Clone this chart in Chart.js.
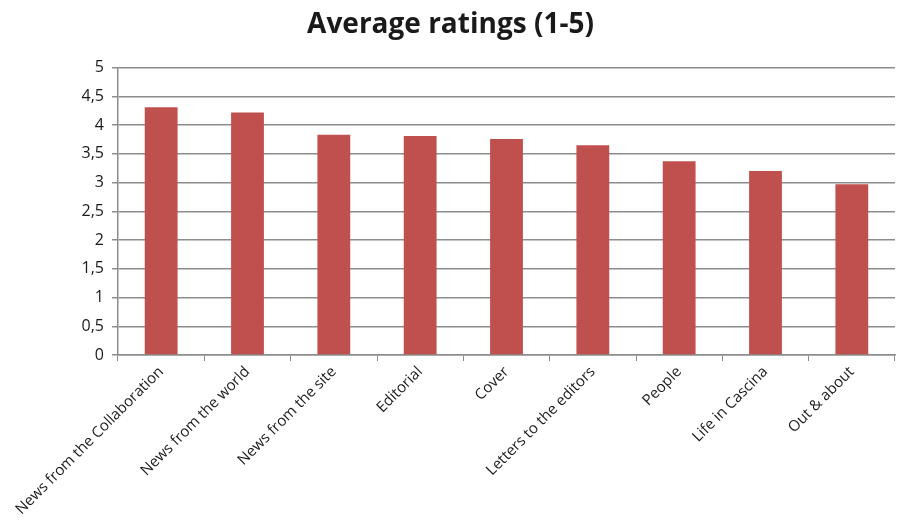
<!DOCTYPE html>
<html>
<head>
<meta charset="utf-8">
<script src="https://cdn.jsdelivr.net/npm/chart.js@4/dist/chart.umd.min.js"></script>
<style>
  html, body { margin: 0; padding: 0; background: #fff; }
</style>
</head>
<body>
<canvas id="myChart" width="903" height="526"></canvas>
<script>
var categories = [
	'News from the Collaboration',
	'News from the world',
	'News from the site',
	'Editorial',
	'Cover',
	'Letters to the editors',
	'People',
	'Life in Cascina',
	'Out & about'
];
var ratings = [4.31, 4.22, 3.83, 3.81, 3.76, 3.65, 3.37, 3.20, 2.97];
var yMin = 0, yMax = 5, yStep = 0.5;

var barColor = '#c0504d';
var gridColor = '#8c8c8c';
var textColor = '#1a1a1a';

var config = {
	type: 'bar',
	data: {
		labels: categories,
		datasets: [{
			label: 'Average rating',
			data: ratings,
			backgroundColor: barColor,
			barPercentage: 0.38,
			categoryPercentage: 1.0
		}]
	},
	options: {
		responsive: false,
		animation: false,
		layout: { padding: { left: 6, right: 8, top: 4, bottom: 0 } },
		plugins: {
			legend: { display: false },
			tooltip: { enabled: false },
			title: {
				display: true,
				text: 'Average ratings (1-5)',
				color: textColor,
				font: { family: 'Open Sans', size: 28, weight: 'bold' },
				padding: { top: 4, bottom: 26 }
			}
		},
		scales: {
			x: {
				grid: {
					offset: true,
					drawOnChartArea: false,
					drawTicks: true,
					tickLength: 6,
					color: gridColor
				},
				border: { color: gridColor, width: 1.5 },
				ticks: {
					color: textColor,
					font: { family: 'Open Sans', size: 15 },
					minRotation: 45,
					maxRotation: 45,
					autoSkip: false,
					padding: 2
				},
				afterFit: function(scale) { scale.height = 171; }
			},
			y: {
				min: yMin,
				max: yMax,
				grid: {
					color: gridColor,
					lineWidth: 1.5,
					tickLength: 6
				},
				border: { color: gridColor, width: 1.5 },
				ticks: {
					stepSize: yStep,
					color: textColor,
					font: { family: 'Open Sans', size: 16 },
					padding: 8,
					callback: function(v) { return String(v).replace('.', ','); }
				},
				afterFit: function(scale) { scale.width = 112; }
			}
		}
	}
};

window.onload = function() {
	var ctx = document.getElementById('myChart').getContext('2d');
	window.myBar = new Chart(ctx, config);
};
</script>
</body>
</html>
